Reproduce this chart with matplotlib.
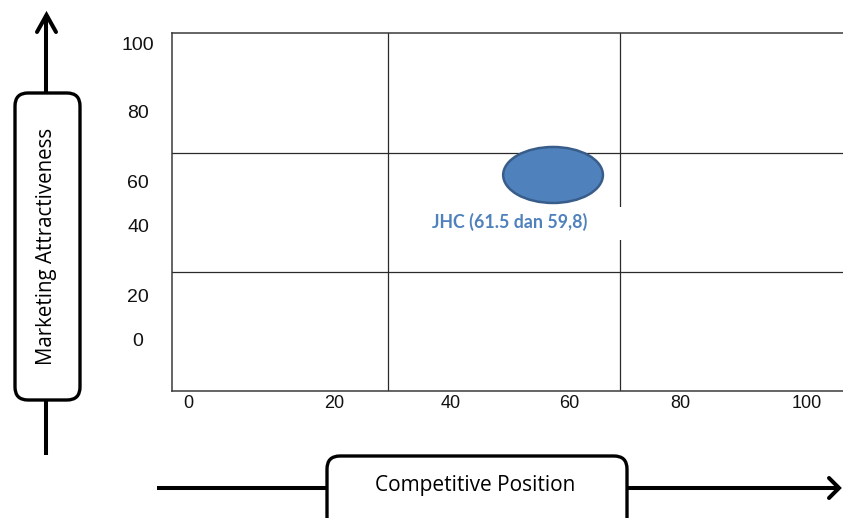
import matplotlib
matplotlib.use("Agg")
import matplotlib.pyplot as plt
from matplotlib.patches import Ellipse, FancyBboxPatch, Rectangle

# ---- data ----
x_tick_labels = ["0", "20", "40", "60", "80", "100"]
y_tick_labels = ["100", "80", "60", "40", "20", "0"]
company = "JHC"
competitive_position = 61.5
market_attractiveness = 59.8
x_title = "Competitive Position"
y_title = "Marketing Attractiveness"

W, H = 843, 518
fig = plt.figure(figsize=(W / 100, H / 100), dpi=100)

# grid box (data axes)
L, R, T, B = 172, 843, 33, 391
ax = fig.add_axes([L / W, (H - B) / H, (R - L) / W, (B - T) / H])
ax.set_xlim(0, 108.3)
ax.set_ylim(0, 99.1)
ax.set_xticks([])
ax.set_yticks([])
for s in ["left", "top", "bottom"]:
    ax.spines[s].set_color("#3a3a3a")
    ax.spines[s].set_linewidth(1.1)
ax.spines["right"].set_visible(False)
# 3x3 divisions
for xv in [34.9, 72.3]:
    ax.axvline(xv, color="#2a2a2a", lw=0.9)
for yv in [32.9, 65.9]:
    ax.axhline(yv, color="#2a2a2a", lw=0.9)

ax.add_patch(Ellipse((competitive_position, market_attractiveness), 16.1, 15.5,
                     facecolor="#4F81BD", edgecolor="#385D8A", lw=1.8, zorder=5))

# overlay in pixel coordinates
ov = fig.add_axes([0, 0, 1, 1])
ov.set_xlim(0, W)
ov.set_ylim(H, 0)
ov.axis("off")
ov.patch.set_alpha(0)

# white box behind label (interrupts gridline)
ov.add_patch(Rectangle((425, 207), 197, 33, facecolor="white", edgecolor="none"))
ov.text(432, 222, f"{company} ({competitive_position} dan {str(market_attractiveness).replace('.', ',')})",
        color="#4F81BD", fontsize=12.8, fontweight="bold", family="Lato",
        ha="left", va="center")

# tick labels
ytick_pos = [45, 113, 183, 228, 297, 342]
for lab, yp in zip(y_tick_labels, ytick_pos):
    ov.text(138, yp, lab, ha="center", va="center", fontsize=14,
            family="Liberation Sans", color="#111111")
xtick_pos = [188, 334, 451, 569, 680, 807]
for lab, xp in zip(x_tick_labels, xtick_pos):
    ov.text(xp, 404, lab, ha="center", va="center", fontsize=13,
            family="Liberation Sans", color="#111111")

lw = 2.9
# vertical arrow
ov.plot([46, 46], [455, 15], color="black", lw=lw, solid_capstyle="butt")
ov.plot([37, 46.5, 56], [32, 15, 32], color="black", lw=lw,
        solid_joinstyle="miter", solid_capstyle="round")
ov.add_patch(FancyBboxPatch((15, 93), 65, 307,
                            boxstyle="round,pad=0,rounding_size=13",
                            facecolor="white", edgecolor="black", lw=2.4, zorder=3))
ov.text(47, 246, y_title, rotation=90, ha="center", va="center",
        fontsize=14.8, family="Open Sans", zorder=4)

# horizontal arrow
ov.plot([157, 839], [488, 488], color="black", lw=lw, solid_capstyle="butt")
ov.plot([829, 839, 829], [478, 488, 498], color="black", lw=lw,
        solid_joinstyle="miter", solid_capstyle="round")
ov.add_patch(FancyBboxPatch((327, 456), 300, 80,
                            boxstyle="round,pad=0,rounding_size=13",
                            facecolor="white", edgecolor="black", lw=2.4, zorder=3,
                            clip_on=True))
ov.text(475, 486, x_title, ha="center", va="center",
        fontsize=15, family="Open Sans", zorder=4)

fig.savefig("out.png", dpi=100)
